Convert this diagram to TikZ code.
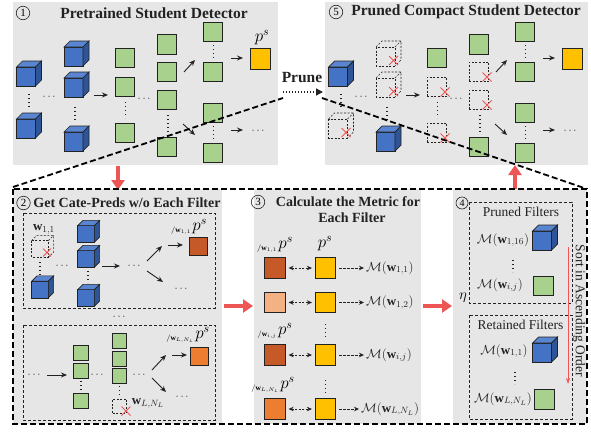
\RequirePackage{fix-cm}
\documentclass[tikz,border=0pt]{standalone}
\usepackage{amsmath}
\usepackage{fontspec}
\setmainfont{Liberation Serif}
\usetikzlibrary{arrows.meta}
\definecolor{bgray}{HTML}{E7E6E6}
\definecolor{cblue}{HTML}{4472C4}
\definecolor{cbluetop}{HTML}{5A85D0}
\definecolor{cblueside}{HTML}{2F5597}
\definecolor{cgreen}{HTML}{A9D18E}
\definecolor{cgold}{HTML}{FFC000}
\definecolor{cbrown}{HTML}{C55A28}
\definecolor{csalmon}{HTML}{F4B183}
\definecolor{corange}{HTML}{ED7D31}
\definecolor{cred}{HTML}{EE5555}
\definecolor{ink}{HTML}{222222}
\newcommand\pslab[1]{{\fontsize{7.5}{8}\selectfont\raisebox{-1.5pt}{$/\mathbf{w}_{#1}$}}\,{\fontsize{17}{18}\selectfont$p^{s}$}}
\tikzset{
 outl/.style={draw=ink, line width=0.7pt},
 gsq/.style={outl, fill=cgreen, minimum size=19.5pt, inner sep=0pt},
 dsq/.style={draw=ink, line width=0.6pt, dash pattern=on 2pt off 1.6pt, minimum size=19.5pt, inner sep=0pt},
 sgsq/.style={gsq, minimum size=14.5pt},
 sdsq/.style={dsq, minimum size=14pt},
 csq/.style={outl, minimum size=20.5pt, inner sep=0pt},
 osq/.style={outl, minimum size=18pt, inner sep=0pt},
 dline/.style={draw=ink, line width=0.6pt, dash pattern=on 2pt off 1.6pt},
 rx/.style={draw=cred, line width=0.8pt},
 vd/.style={draw=ink, line width=1.1pt, dash pattern=on 1.1pt off 2.9pt},
 arr/.style={draw=ink, line width=0.9pt, -{Stealth[length=6pt,width=5pt]}},
 ddarr/.style={draw=ink, line width=0.8pt, dash pattern=on 2pt off 1.5pt, {Stealth[length=5pt,width=4.5pt]}-{Stealth[length=5pt,width=4.5pt]}},
 darr/.style={draw=ink, line width=0.8pt, dash pattern=on 2.5pt off 1.5pt, -{Stealth[length=5pt,width=4.5pt]}},
 rarr/.style={draw=cred, line width=4pt, -{Triangle[length=10pt,width=13pt]}},
 bigdash/.style={draw=black, line width=1.8pt, dash pattern=on 6pt off 3pt},
 thindash/.style={draw=ink, line width=0.7pt, dash pattern=on 3pt off 2pt},
 numc/.style={circle, draw=ink, line width=0.6pt, inner sep=0pt, minimum size=13.5pt, font=\fontsize{11}{11}\selectfont},
 ttl/.style={font=\fontsize{15.5}{17}\selectfont\bfseries, text=ink, inner sep=0pt},
 ttlb/.style={font=\fontsize{14}{16}\selectfont\bfseries, text=ink, inner sep=0pt},
 lbl/.style={font=\fontsize{13.5}{15}\selectfont, text=ink, inner sep=0pt},
 mlab/.style={font=\fontsize{13}{15}\selectfont, text=ink, inner sep=0pt},
 dotsn/.style={font=\fontsize{11}{12}\selectfont, text=ink, inner sep=0pt},
 cube/.pic={
  \path[outl, fill=cblue] (-9.5,-9.5) rectangle (9.5,9.5);
  \path[outl, fill=cbluetop] (-9.5,-9.5) -- (-3.5,-15.5) -- (15.5,-15.5) -- (9.5,-9.5) -- cycle;
  \path[outl, fill=cblueside] (9.5,-9.5) -- (15.5,-15.5) -- (15.5,3.5) -- (9.5,9.5) -- cycle;
 },
 dcube/.pic={
  \draw[dline] (-9.5,-9.5) rectangle (9.5,9.5);
  \draw[dline] (-9.5,-9.5) -- (-3.5,-15.5) -- (15.5,-15.5) -- (15.5,3.5) -- (9.5,9.5);
  \draw[dline] (9.5,-9.5) -- (15.5,-15.5);
  \draw[rx] (3.5,-0.5) -- (12.5,8.5) (3.5,8.5) -- (12.5,-0.5);
 },
 xm/.pic={\draw[rx] (-4.5,-4.5) -- (4.5,4.5) (-4.5,4.5) -- (4.5,-4.5);},
}
\begin{document}
\begin{tikzpicture}[x=1pt,y=-1pt]
\useasboundingbox (0,0) rectangle (591,431);
% backgrounds
\fill[bgray] (13,2) rectangle (278,165);
\fill[bgray] (325,2) rectangle (588,165);
\fill[bgray] (13,189) rectangle (222,424);
\fill[bgray] (254,189) rectangle (421,424);
\fill[bgray] (453,189) rectangle (587,424);

% ---------------- Panel 1
\node[numc] (n1) at (23,13) {1};
\node[ttl] (t1) at (154,13) {Pretrained Student Detector};
\pic at (26,76.5) {cube};
\pic at (26,128.5) {cube};
\draw[vd] (29,94) -- (29,108);
\node[dotsn] (h1a) at (50,97) {$\cdots$};
\pic at (73.5,56.5) {cube};
\pic at (73.5,87.5) {cube};
\pic at (73.5,141.5) {cube};
\draw[vd] (75,107) -- (75,121);
\draw[arr] (94,95) -- (108,95);
\node[gsq] (p1g3a) at (125,58) {};
\node[gsq] (p1g3b) at (125,87) {};
\node[gsq] (p1g3c) at (125,133) {};
\draw[vd] (125.5,102) -- (125.5,118);
\node[dotsn] (h1b) at (145,99) {$\cdots$};
\node[gsq] (p1g4a) at (167,44.3) {};
\node[gsq] (p1g4b) at (167,72) {};
\node[gsq] (p1g4c) at (167,100) {};
\node[gsq] (p1g4d) at (167,147) {};
\draw[vd] (168,115) -- (168,132);
\node[gsq] (p1g5a) at (213,32) {};
\node[gsq] (p1g5b) at (213,72) {};
\node[gsq] (p1g5c) at (213,113) {};
\node[gsq] (p1g5d) at (213,153) {};
\draw[vd] (213.5,45) -- (213.5,59);
\draw[vd] (213.5,126) -- (213.5,140);
\draw[arr] (184,72) -- (195,60);
\draw[arr] (183,124) -- (195,135);
\draw[arr] (231,58) -- (243,58);
\node[csq, fill=cgold] (gold1) at (260.5,59) {};
\node[font=\fontsize{17}{18}\selectfont, inner sep=0pt] (ps1) at (262,38) {$p^{s}$};
\draw[arr] (231,130) -- (243,130);
\node[dotsn] (h1c) at (259,131) {$\cdots$};

% ---------------- Panel 5
\node[numc] (n5) at (336,12) {5};
\node[ttl] (t5) at (466,12) {Pruned Compact Student Detector};
\begin{scope}[shift={(312,0)}]
\pic at (26,76.5) {cube};
\pic at (26,128.5) {dcube};
\draw[vd] (29,94) -- (29,108);
\node[dotsn] (h5a) at (50,97) {$\cdots$};
\pic at (73.5,56.5) {dcube};
\pic at (73.5,87.5) {dcube};
\pic at (73.5,141.5) {cube};
\draw[vd] (75,107) -- (75,121);
\draw[arr] (94,95) -- (108,95);
\node[gsq] (p5g3a) at (125,58) {};
\node[dsq] (p5g3b) at (125,87) {};
\node[dsq] (p5g3c) at (125,133) {};
\pic at (133,92) {xm};
\pic at (133,138) {xm};
\draw[vd] (125.5,102) -- (125.5,118);
\node[dotsn] (h5b) at (145,99) {$\cdots$};
\node[gsq] (p5g4a) at (167,44.3) {};
\node[dsq] (p5g4b) at (167,72) {};
\node[dsq] (p5g4c) at (167,100) {};
\node[gsq] (p5g4d) at (167,147) {};
\pic at (175,77) {xm};
\pic at (175,105) {xm};
\draw[vd] (168,115) -- (168,132);
\node[gsq] (p5g5a) at (213,32) {};
\node[gsq] (p5g5b) at (213,72) {};
\node[gsq] (p5g5c) at (213,113) {};
\node[gsq] (p5g5d) at (213,153) {};
\draw[vd] (213.5,45) -- (213.5,59);
\draw[vd] (213.5,126) -- (213.5,140);
\draw[arr] (184,72) -- (195,60);
\draw[arr] (183,124) -- (195,135);
\draw[arr] (231,58) -- (243,58);
\node[csq, fill=cgold] (gold5) at (260.5,59) {};
\draw[arr] (231,130) -- (243,130);
\node[dotsn] (h5c) at (259,131) {$\cdots$};
\end{scope}

% ---------------- Prune
\node[ttl] (prune) at (302,78) {Prune};
\coordinate (pra) at (283,92);
\coordinate (prb) at (323,92);
\draw[draw=ink, line width=1.3pt, dash pattern=on 1.3pt off 1.7pt, -{Triangle[length=7pt,width=7pt]}] (pra) -- (prb);

% ---------------- Panel 2
\node[numc] (n2) at (23.5,203) {2};
\node[ttlb] (t2) at (127,203) {Get Cate-Preds w/o Each Filter};
\draw[thindash] (23,213) rectangle (215,308);
\node[mlab] (w11) at (44,229) {$\mathbf{w}_{1,1}$};
\begin{scope}
\pic[scale=0.88] at (40,249) {dcube};
\draw[vd] (40,262) -- (40,276);
\pic[scale=0.88] at (40,289.5) {cube};
\node[dotsn] (h2a) at (63,266) {$\cdots$};
\pic[scale=0.88] at (86,234) {cube};
\pic[scale=0.88] at (86,259) {cube};
\draw[vd] (88,271) -- (88,283);
\pic[scale=0.88] at (86,298) {cube};
\end{scope}
\draw[arr] (102,266) -- (120,266);
\node[dotsn] (h2b) at (135,266) {$\cdots$};
\draw[arr] (147,261) -- (162,246);
\draw[arr] (147,271) -- (163,282);
\draw[arr] (168,245) -- (183,245);
\node[osq, fill=cbrown] (o2a) at (198,246) {};
\node[inner sep=0pt] (l2a) at (189,227) {\pslab{1,1}};
\node[dotsn] (h2c) at (182,289) {$\cdots$};

\node[dotsn] (h2d) at (120,317) {$\cdots$};

\draw[thindash] (23,325) rectangle (215,420);
\node[dotsn] (h2e) at (35,375) {$\cdots$};
\draw[arr] (47,375) -- (67,375);
\node[sgsq] (s1a) at (81,352.7) {};
\node[sgsq] (s1b) at (81,370.7) {};
\node[sgsq] (s1c) at (81,400.7) {};
\draw[vd] (81,381) -- (81,392);
\node[dotsn] (h2f) at (98,375) {$\cdots$};
\node[sgsq] (s2a) at (119.5,341) {};
\node[sgsq] (s2b) at (119.5,359) {};
\node[sgsq] (s2c) at (119.5,375.7) {};
\draw[vd] (119.5,386) -- (119.5,397);
\node[sdsq] (s2d) at (119.5,406) {};
\pic at (126,411) {xm};
\node[mlab] (wln) at (148,403) {$\mathbf{w}_{L,N_L}$};
\node[dotsn] (h2g) at (140,375) {$\cdots$};
\draw[arr] (152,370) -- (166,355);
\draw[arr] (152,378) -- (166,392);
\draw[arr] (172,355) -- (187,355);
\node[osq, fill=corange] (o2b) at (199,356) {};
\node[inner sep=0pt] (l2b) at (188,335) {\pslab{L,N_L}};
\node[dotsn] (h2h) at (183,397) {$\cdots$};

% ---------------- Panel 3
\node[numc] (n3) at (258,202) {3};
\node[ttlb] (t3a) at (348,202) {Calculate the Metric for};
\node[ttlb] (t3b) at (352,218) {Each Filter};
\node[csq, fill=cbrown] (L1) at (275,268) {};
\node[csq, fill=csalmon] (L2) at (275,302.5) {};
\node[csq, fill=cbrown] (L3) at (275,355) {};
\node[csq, fill=corange] (L4) at (275,409) {};
\node[csq, fill=cgold] (R1) at (325.5,268) {};
\node[csq, fill=cgold] (R2) at (325.5,302.5) {};
\node[csq, fill=cgold] (R3) at (325.5,355) {};
\node[csq, fill=cgold] (R4) at (325.5,409) {};
\node[mlab, anchor=west] (M1) at (366,268) {$\mathcal{M}(\mathbf{w}_{1,1})$};
\node[mlab, anchor=west] (M2) at (366,302.5) {$\mathcal{M}(\mathbf{w}_{1,2})$};
\node[mlab, anchor=west] (M3) at (366,355) {$\mathcal{M}(\mathbf{w}_{i,j})$};
\node[mlab, anchor=west] (M4) at (361,409) {$\mathcal{M}(\mathbf{w}_{L,N_L})$};
\foreach \i in {1,2,3,4} {
  \draw[ddarr, shorten <=3pt, shorten >=3pt] (L\i) -- (R\i);
  \draw[darr, shorten <=3pt, shorten >=2pt] (R\i) -- (M\i);
}
\node[inner sep=0pt] (l3a) at (275,245) {\pslab{1,1}};
\node[font=\fontsize{17}{18}\selectfont, inner sep=0pt] (r3a) at (325,244) {$p^{s}$};
\node[inner sep=0pt] (l3c) at (275,331) {\pslab{i,j}};
\node[inner sep=0pt] (l3d) at (273,385) {\pslab{L,N_L}};
\draw[vd] (325.5,324) -- (325.5,338);
\draw[vd] (325.5,380) -- (325.5,393);

% ---------------- Panel 4
\draw[thindash] (469,202) rectangle (572,303);
\draw[thindash] (469,315) rectangle (572,419);
\node[numc, fill=bgray, minimum size=12pt, font=\fontsize{10}{10}\selectfont] (n4) at (462,203) {4};
\node[lbl] (pf) at (521,212) {Pruned Filters};
\node[mlab] (m4a) at (503,240) {$\mathcal{M}(\mathbf{w}_{1,16})$};
\pic at (542,240.5) {cube};
\draw[vd] (513,260) -- (513,272);
\node[mlab] (m4b) at (500,285) {$\mathcal{M}(\mathbf{w}_{i,j})$};
\node[gsq] (g4a) at (543.5,286) {};
\node[lbl] (rf) at (520.5,325) {Retained Filters};
\node[mlab] (m4c) at (504,351) {$\mathcal{M}(\mathbf{w}_{1,1})$};
\pic at (542,352.5) {cube};
\draw[vd] (515,372) -- (515,384);
\node[mlab] (m4d) at (503,399) {$\mathcal{M}(\mathbf{w}_{L,N_L})$};
\node[gsq] (g4b) at (544.5,399.5) {};
\node[lbl, rotate=-90] (sort) at (579,311) {Sort in Ascending Order};
\coordinate (sa) at (568,247);
\coordinate (sb) at (568,384);
\draw[draw=cred, line width=0.9pt, -{Stealth[length=6pt,width=4pt]}] (sa) -- (sb);
\node[font=\fontsize{15}{16}\selectfont, inner sep=0pt] (eta) at (463,298) {$\eta$};

% ---------------- red arrows between panels
\draw[rarr] (118,166) -- (118,190);
\draw[rarr] (515,189) -- (515,165);
\draw[rarr] (224,306) -- (253,306);
\draw[rarr] (423,306) -- (452,306);

% ---------------- big dashed outline
\draw[bigdash] (13,189) rectangle (587,424);
\draw[bigdash] (13,187) -- (283,98);
\draw[bigdash] (322,98) -- (587,189);
\end{tikzpicture}
\end{document}
